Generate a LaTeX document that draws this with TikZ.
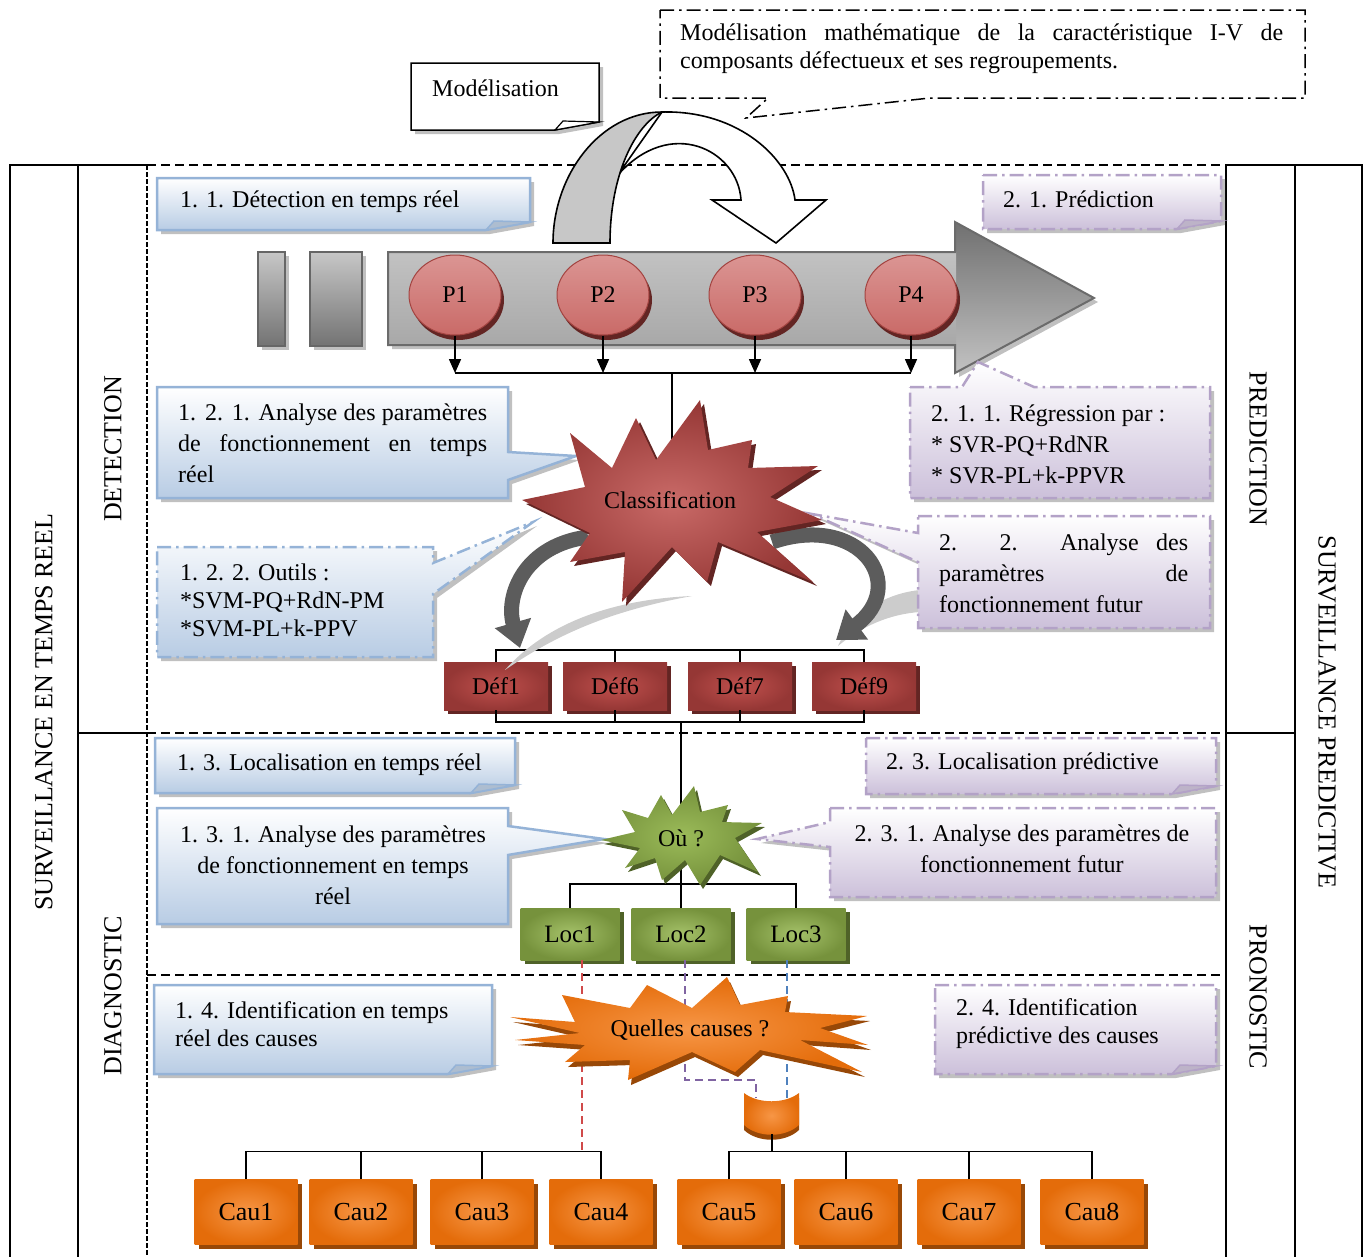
\documentclass[tikz,border=0pt]{standalone}
\usepackage{fontspec}
\setmainfont{Liberation Serif}
\usetikzlibrary{shadows,arrows.meta,shapes.geometric}
\hyphenpenalty=10000
\exhyphenpenalty=10000
\hbadness=10000

\definecolor{blueedge}{HTML}{95B3D7}
\definecolor{bluefill}{HTML}{B8CCE4}
\definecolor{violetedge}{HTML}{B3A2C7}
\definecolor{violetfill}{HTML}{CCC0DA}
\definecolor{redin}{HTML}{C0504D}
\definecolor{redout}{HTML}{953735}
\definecolor{redshadow}{HTML}{632523}
\definecolor{redlight}{HTML}{DB9593}
\definecolor{greenin}{HTML}{9BBB59}
\definecolor{greenout}{HTML}{76923C}
\definecolor{greenshadow}{HTML}{4F6228}
\definecolor{orangein}{HTML}{F79646}
\definecolor{orangeout}{HTML}{E46C0A}
\definecolor{orangeshadow}{HTML}{984807}
\definecolor{tracered}{HTML}{D04A4A}
\definecolor{traceviolet}{HTML}{8064A2}
\definecolor{traceblue}{HTML}{4F81BD}

% note with a folded bottom-right corner: x1 y1 x2 y2 body-style fold-style
\newcommand\foldnote[6]{%
  \path[#5] (#1,#2) -- (#3,#2) -- (#3,{#4-8}) -- ({#3-44},#4) -- (#1,#4) -- cycle;
  \path[#6] ({#3-44},#4) -- ({#3-36},{#4-9}) -- (#3,{#4-8}) -- cycle;
}

\tikzset{
  txt/.style={font=\fontsize{24}{31}\selectfont, inner sep=0pt},
  txtb/.style={font=\fontsize{24}{28}\selectfont, inner sep=0pt},
  side/.style={font=\fontsize{26}{30}\selectfont, inner sep=0pt},
  frame/.style={line width=1.6pt},
  zone/.style={line width=1.8pt, dash pattern=on 9pt off 5pt},
  zonev/.style={line width=1.4pt, dash pattern=on 5pt off 2pt},
  link/.style={line width=1.6pt},
  ddash/.style={dash pattern=on 14pt off 5pt on 2.5pt off 5pt},
  trace/.style={line width=1.8pt, dash pattern=on 8pt off 5pt},
  shadowed/.style={drop shadow={shadow xshift=4pt, shadow yshift=-4pt, fill=black!45, opacity=.55}},
  bluebox/.style={top color=white, bottom color=bluefill, draw=blueedge, line width=2.5pt, shadowed},
  blueboxdd/.style={bluebox, ddash},
  violetbox/.style={top color=white, bottom color=violetfill, draw=violetedge, line width=2.5pt, ddash, shadowed},
  bluefold/.style={fill=bluefill!80!gray, draw=blueedge, line width=1.5pt},
  violetfold/.style={fill=violetfill!80!gray, draw=violetedge, line width=1.5pt},
  pball/.style={ellipse, minimum width=92pt, minimum height=80pt, inner sep=0pt,
    top color=redlight, middle color=redin, bottom color=redin!85!white, draw=redin!85!black, line width=1pt,
    drop shadow={shadow xshift=3pt, shadow yshift=-5pt, fill=redshadow, opacity=1},
    font=\fontsize{24}{28}\selectfont},
  defbox/.style={rectangle, minimum width=104pt, minimum height=48pt, inner sep=0pt,
    inner color=redin, outer color=redout,
    drop shadow={shadow xshift=4pt, shadow yshift=-4pt, fill=redshadow, opacity=1},
    font=\fontsize{24}{28}\selectfont},
  locbox/.style={rectangle, minimum width=99pt, minimum height=52pt, inner sep=0pt,
    inner color=greenin!90!white, outer color=greenout,
    drop shadow={shadow xshift=4pt, shadow yshift=-4pt, fill=greenshadow, opacity=1},
    font=\fontsize{25}{28}\selectfont},
  caubox/.style={rectangle, minimum width=103pt, minimum height=65pt, inner sep=0pt,
    inner color=orangein, outer color=orangeout,
    drop shadow={shadow xshift=4pt, shadow yshift=-4pt, fill=orangeshadow, opacity=1},
    font=\fontsize{26}{28}\selectfont},
  starred/.style={inner color=redin!85!white, outer color=redout,
    drop shadow={shadow xshift=4pt, shadow yshift=-4pt, fill=redshadow, opacity=1}},
  stargreen/.style={inner color=greenin, outer color=greenout,
    drop shadow={shadow xshift=3pt, shadow yshift=-4pt, fill=greenshadow, opacity=1}},
  starorange/.style={inner color=orangein, outer color=orangeout,
    drop shadow={shadow xshift=3pt, shadow yshift=-5pt, fill=orangeshadow, opacity=1}},
  darkarrow/.style={line width=15pt, draw=black!64, -{Triangle[width=36pt,length=26pt]}},
  swoosh/.style={fill=black!20},
}

\begin{document}
\begin{tikzpicture}[x=1pt,y=-1pt]
\useasboundingbox (0,0) rectangle (1367,1256);
\clip (0,0) rectangle (1367,1256);

% ---- side columns ----
\draw[frame] (10,1270) -- (10,165) -- (147,165);
\draw[frame] (78,165) -- (78,1270);
\draw[frame] (78,733) -- (147,733);
\draw[frame] (1226,1270) -- (1226,165) -- (1362,165) -- (1362,1270);
\draw[frame] (1295,165) -- (1295,1270);
\draw[frame] (1226,733) -- (1295,733);
\node[side, rotate=90] (realtime) at (44,712) {SURVEILLANCE EN TEMPS REEL};
\node[side, rotate=90] (detection) at (113,449) {DETECTION};
\node[side, rotate=90] (diagnostic) at (113,996) {DIAGNOSTIC};
\node[side, rotate=-90] (prediction) at (1258,449) {PREDICTION};
\node[side, rotate=-90] (pronostic) at (1258,997) {PRONOSTIC};
\node[side, rotate=-90] (predictive) at (1327,712) {SURVEILLANCE PREDICTIVE};

% ---- zone separators ----
\draw[zone] (147,165) -- (1226,165);
\draw[zone] (147,733) -- (1226,733);
\draw[zone] (147,975) -- (1226,975);
\draw[zonev] (147,165) -- (147,1270);

% ---- modelling notes ----
\path[draw=black, line width=1.5pt, ddash, fill=white]
  (660,10) -- (1305,10) -- (1305,98) -- (930,98) -- (746,118) -- (768,98) -- (660,98) -- cycle;
\node[txtb, text width=603pt, align=justify, anchor=west] (maths) at (680,49)
  {Modélisation mathématique de la caractéristique I-V de\linebreak composants défectueux et ses regroupements.};
\foldnote{411}{63}{599}{130}{draw=black, fill=white, line width=1.5pt, shadowed}{fill=white, draw=black, line width=1.2pt}
\node[txt, anchor=west] (model) at (432,88) {Modélisation};

% ---- U-turn ribbon arrow ----
\path[draw=black, line width=1.6pt, fill=white]
  (662,112) .. controls (740,110) and (790,160) .. (795,200) -- (826,200) -- (776,243) -- (712,200)
  -- (741,200) .. controls (738,150) and (670,115) .. (617,176) -- cycle;
\path[draw=black, line width=1.6pt, fill=black!22]
  (553,243) .. controls (553,175) and (600,112) .. (662,112)
  .. controls (635,125) and (610,175) .. (610,243) -- cycle;

% ---- process bar ----
\path[top color=black!22, bottom color=black!55, draw=black!60, line width=2pt, shadowed] (258,252) rectangle (285,346);
\path[top color=black!22, bottom color=black!55, draw=black!60, line width=2pt, shadowed] (310,252) rectangle (362,346);
\path[fill=white, shadowed]
  (388,252) -- (955,252) -- (955,222) -- (1094,298) -- (955,373) -- (955,345) -- (388,345) -- cycle;
\path[top color=black!56, bottom color=black!24] (955,222) -- (1094,298) -- (955,373) -- cycle;
\path[top color=black!24, middle color=black!18, bottom color=black!34] (388,252) rectangle (956,345);
\path[draw=black!58, line width=2pt]
  (388,252) -- (955,252) -- (955,222) -- (1094,298) -- (955,373) -- (955,345) -- (388,345) -- cycle;

\node[pball] (p1) at (455,295) {P1};
\node[pball] (p2) at (603,295) {P2};
\node[pball] (p3) at (755,295) {P3};
\node[pball] (p4) at (911,295) {P4};

\coordinate (pbar) at (672,373);
\coordinate (clsc) at (672,500);
\foreach \p in {p1,p2,p3,p4}
  \draw[link, -{Triangle[width=12pt,length=14pt]}] (\p.south) -- (\p.south |- pbar);
\draw[link] (p1.south |- pbar) -- (p4.south |- pbar);
\draw[link] (pbar) -- (clsc);

% ---- faults ----
\node[defbox] (d1) at (496,686) {Déf1};
\node[defbox] (d6) at (615,686) {Déf6};
\node[defbox] (d7) at (740,686) {Déf7};
\node[defbox] (d9) at (864,686) {Déf9};
\draw[link] (d1.north) -- ++(0,-12) -| (d9.north);
\draw[link] (d6.north) -- ++(0,-12);
\draw[link] (d7.north) -- ++(0,-12);
\draw[link] (d1.south) -- ++(0,12) -| (d9.south);
\draw[link] (d6.south) -- ++(0,12);
\draw[link] (d7.south) -- ++(0,12);

% ---- locations ----
\node[locbox] (l1) at (570,934) {Loc1};
\node[locbox] (l2) at (681,934) {Loc2};
\node[locbox] (l3) at (796,934) {Loc3};
\coordinate (djoin) at (681,722);
\draw[link] (djoin) -- (l2.north);
\draw[link] (l1.north) -- ++(0,-24) -| (l3.north);

% ---- causes ----
\path[inner color=orangein, outer color=orangeout,
      drop shadow={shadow xshift=0pt, shadow yshift=-5pt, fill=orangeshadow, opacity=1}]
  (744,1093) .. controls (758,1104) and (785,1104) .. (799,1093) -- (799,1125)
  .. controls (785,1138) and (758,1138) .. (744,1125) -- cycle;
\coordinate (cylinL) at (756,1098);
\coordinate (cylinR) at (787,1098);
\coordinate (cylbot) at (772,1134);
\coordinate (cbarL) at (582,1152);
\coordinate (cbarR) at (772,1152);

\node[caubox] (c1) at (246,1212) {Cau1};
\node[caubox] (c2) at (361,1212) {Cau2};
\node[caubox] (c3) at (482,1212) {Cau3};
\node[caubox] (c4) at (601,1212) {Cau4};
\node[caubox] (c5) at (729,1212) {Cau5};
\node[caubox] (c6) at (846,1212) {Cau6};
\node[caubox] (c7) at (969,1212) {Cau7};
\node[caubox] (c8) at (1092,1212) {Cau8};
\draw[link] (c1.north) -- ++(0,-28) -| (c4.north);
\draw[link] (c2.north) -- ++(0,-28);
\draw[link] (c3.north) -- ++(0,-28);
\draw[link] (c5.north) -- ++(0,-28) -| (c8.north);
\draw[link] (c6.north) -- ++(0,-28);
\draw[link] (c7.north) -- ++(0,-28);
\draw[link] (cylbot) -- (cbarR);

\draw[trace, tracered] (cbarL |- l1.south) -- (cbarL);
\draw[trace, traceviolet] ([xshift=4pt]l2.south) -- ++(0,120) -| (cylinL);
\draw[trace, traceblue] (cylinR |- l3.south) -- (cylinR);

% ---- swirl arrows around the classification ----
\path[swoosh] (692,596) .. controls (600,600) and (540,630) .. (505,670)
  .. controls (560,632) and (615,610) .. (692,596) -- cycle;
\path[swoosh] (920,590) .. controls (880,594) and (850,618) .. (838,646)
  .. controls (862,626) and (890,614) .. (920,612) -- cycle;
\draw[darkarrow] (588,537) .. controls (525,545) and (505,595) .. (520,648);
\draw[darkarrow] (772,542) .. controls (860,512) and (910,585) .. (836,640);

% ---- real-time notes (left) ----
\foldnote{157}{178}{530}{230}{bluebox}{bluefold}
\node[txt, anchor=west] (n11) at (180,202) {1. 1. Détection en temps réel};

\path[bluebox] (157,387) -- (508,387) -- (508,452) -- (576,456) -- (508,480) -- (508,498) -- (157,498) -- cycle;
\node[txt, text width=309pt, align=justify, anchor=west] (n121) at (178,443)
  {1. 2. 1. Analyse des paramètres de fonctionnement en temps\linebreak réel};

\path[blueboxdd] (157,547) -- (433,547) -- (433,563) -- (533,522) -- (433,594) -- (433,657) -- (157,657) -- cycle;
\node[txtb, anchor=west, align=left] (n122) at (180,600) {1. 2. 2. Outils :\\*SVM-PQ+RdN-PM\\*SVM-PL+k-PPV};

\foldnote{155}{738}{515}{793}{bluebox}{bluefold}
\node[txt, anchor=west] (n13) at (177,765) {1. 3. Localisation en temps réel};

\path[bluebox] (157,808) -- (508,808) -- (508,826) -- (604,839) -- (508,855) -- (508,924) -- (157,924) -- cycle;
\node[txt, align=center] (n131) at (333,865) {1. 3. 1. Analyse des paramètres\\de fonctionnement en temps\\réel};

\foldnote{154}{985}{492}{1074}{bluebox}{bluefold}
\node[txtb, anchor=west, align=left] (n14) at (175,1024) {1. 4. Identification en temps\\réel des causes};

% ---- predictive notes (right) ----
\foldnote{983}{175}{1221}{229}{violetbox}{violetfold}
\node[txt, anchor=west] (n21) at (1003,199) {2. 1. Prédiction};

\path[violetbox] (910,387) -- (962,387) -- (978,362) -- (1034,387) -- (1210,387) -- (1210,498) -- (910,498) -- cycle;
\node[txt, anchor=west, align=left] (n211) at (931,444) {2. 1. 1. Régression par :\\* SVR-PQ+RdNR\\* SVR-PL+k-PPVR};

\path[violetbox] (918,516) -- (1210,516) -- (1210,628) -- (918,628) -- (918,562) -- (812,514) -- (918,533) -- cycle;
\node[txt, text width=249pt, align=justify, anchor=west] (n22) at (939,573)
  {2. 2. Analyse des\linebreak paramètres de\linebreak fonctionnement futur};

\foldnote{866}{738}{1216}{794}{violetbox}{violetfold}
\node[txt, anchor=west] (n23) at (886,764) {2. 3. Localisation prédictive};

\path[violetbox] (830,808) -- (1216,808) -- (1216,897) -- (830,897) -- (830,847) -- (757,839) -- (830,822) -- cycle;
\node[txt, align=center] (n231) at (1022,849) {2. 3. 1. Analyse des paramètres de\\fonctionnement futur};

\foldnote{935}{985}{1216}{1074}{violetbox}{violetfold}
\node[txtb, anchor=west, align=left] (n24) at (956,1024) {2. 4. Identification\\prédictive des causes};

% ---- bursts ----
\path[starred] (570,433) -- (612,468) -- (636,418) -- (656,460) -- (700,400) -- (708,450) -- (752,440)
  -- (748,468) -- (818,466) -- (770,497) -- (822,520) -- (757,532) -- (813,582) -- (718,542)
  -- (707,582) -- (672,547) -- (622,602) -- (625,552) -- (570,562) -- (590,533) -- (522,500)
  -- (585,487) -- cycle;
\node[txt] (cls) at (670,500) {Classification};

\path[stargreen] (601,840) -- (635,832) -- (622,810) -- (648,818) -- (661,795) -- (672,815) -- (694,786)
  -- (700,812) -- (728,805) -- (722,822) -- (762,823) -- (735,838) -- (758,872) -- (720,855)
  -- (700,885) -- (685,860) -- (662,880) -- (655,858) -- (625,868) -- (640,848) -- cycle;
\node[txt] (where) at (681,838) {Où ?};

\path[starorange] (510,1017) -- (575,1022) -- (562,995) -- (630,1008) -- (647,985) -- (692,1008)
  -- (727,977) -- (740,1005) -- (788,996) -- (785,1012) -- (867,1016) -- (820,1028) -- (868,1045)
  -- (800,1040) -- (862,1072) -- (760,1050) -- (735,1072) -- (692,1052) -- (628,1080) -- (630,1060)
  -- (565,1062) -- (585,1045) -- (515,1040) -- (580,1033) -- cycle;
\node[txt] (causes) at (690,1030) {Quelles causes ?};
\end{tikzpicture}
\end{document}
